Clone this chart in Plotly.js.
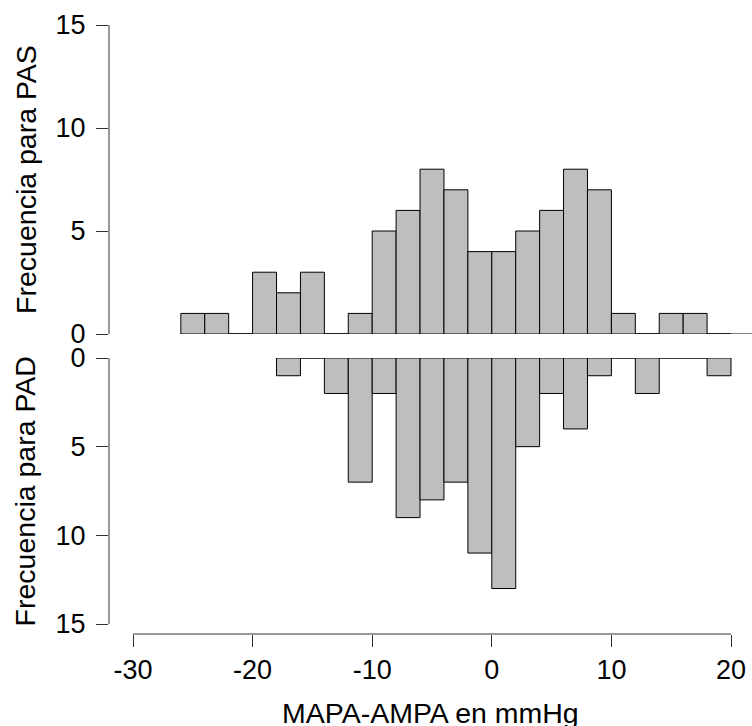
<!DOCTYPE html>
<html>
<head>
<meta charset="utf-8">
<script src="https://cdn.plot.ly/plotly-3.0.1.min.js"></script>
<style>html,body{margin:0;padding:0;background:#fff;}#chart{width:752px;height:726px;}</style>
</head>
<body>
<div id="chart"></div>
<script>
// Bin centres (bin width 2 mmHg)
const pasBins = [-25,-23,-21,-19,-17,-15,-13,-11,-9,-7,-5,-3,-1,1,3,5,7,9,11,13,15,17,19];
const pasCounts = [1,1,0,3,2,3,0,1,5,6,8,7,4,4,5,6,8,7,1,0,1,1,0];
const padBins = [-17,-15,-13,-11,-9,-7,-5,-3,-1,1,3,5,7,9,11,13,15,17,19];
const padCounts = [1,0,2,7,2,9,8,7,11,13,5,2,4,1,0,2,0,0,1];
const xTicks = [-30,-20,-10,0,10,20];
const yTicks = [0,5,10,15];
const binWidth = 2;

const FONT = 'Liberation Sans, Arial, Helvetica, sans-serif';
const AX = '#333333';

const barStyle = {color:'#bebebe', line:{color:'#000', width:1}};

const traces = [
  {type:'bar', x:pasBins, y:pasCounts, width:binWidth, marker:barStyle, xaxis:'x', yaxis:'y', hoverinfo:'x+y'},
  {type:'bar', x:padBins, y:padCounts, width:binWidth, marker:barStyle, xaxis:'x', yaxis:'y2', hoverinfo:'x+y'}
];

const yCommon = {
  tickvals:yTicks, ticktext:yTicks.map(String), ticks:'outside', ticklen:12, tickwidth:1, tickcolor:AX,
  showline:false, zeroline:false, showgrid:false, anchor:'x', ticklabelstandoff:5,
  tickfont:{family:FONT, size:27, color:'#000'}, fixedrange:true
};

const layout = {
  width:752, height:726,
  margin:{l:109, r:0, t:25, b:92},
  paper_bgcolor:'#fff', plot_bgcolor:'#fff',
  showlegend:false, bargap:0,
  font:{family:FONT, color:'#000'},
  xaxis:{
    range:[-32.007, 21.756], autorange:false, anchor:'y2',
    tickvals:xTicks, ticktext:xTicks.map(String), ticks:'outside', ticklen:12, tickwidth:1, tickcolor:AX,
    showline:false, zeroline:false, showgrid:false,
    tickfont:{family:FONT, size:27, color:'#000'}
  },
  yaxis:Object.assign({}, yCommon, {domain:[0.4926, 1], range:[0, 15], autorange:false}),
  yaxis2:Object.assign({}, yCommon, {domain:[0, 0.4532], range:[15.564, 0], autorange:false}),
  shapes:[
    {type:'line', xref:'x', yref:'paper', x0:-30, x1:20, y0:0, y1:0, line:{color:AX, width:1}},
    {type:'line', xref:'paper', yref:'y', x0:0, x1:0, y0:0, y1:15, line:{color:AX, width:1}},
    {type:'line', xref:'paper', yref:'y2', x0:0, x1:0, y0:0, y1:15, line:{color:AX, width:1}},
    {type:'line', xref:'x', yref:'y', x0:-26, x1:21.756, y0:0, y1:0, line:{color:'#000', width:1}, layer:'below'}
  ],
  annotations:[
    {text:'Frecuencia para PAS', xref:'paper', yref:'y', x:-0.13, y:7.5, xanchor:'center', yanchor:'middle',
     textangle:-90, showarrow:false, font:{family:FONT, size:28.5, color:'#000'}},
    {text:'Frecuencia para PAD', xref:'paper', yref:'y2', x:-0.13, y:7.5, xanchor:'center', yanchor:'middle',
     textangle:-90, showarrow:false, font:{family:FONT, size:28.5, color:'#000'}},
    {text:'MAPA-AMPA en mmHg', xref:'paper', yref:'paper', x:0.5, y:-0.1297, xanchor:'center', yanchor:'middle',
     showarrow:false, font:{family:FONT, size:28.5, color:'#000'}}
  ]
};

Plotly.newPlot('chart', traces, layout, {displayModeBar:false, staticPlot:true});
</script>
</body>
</html>
